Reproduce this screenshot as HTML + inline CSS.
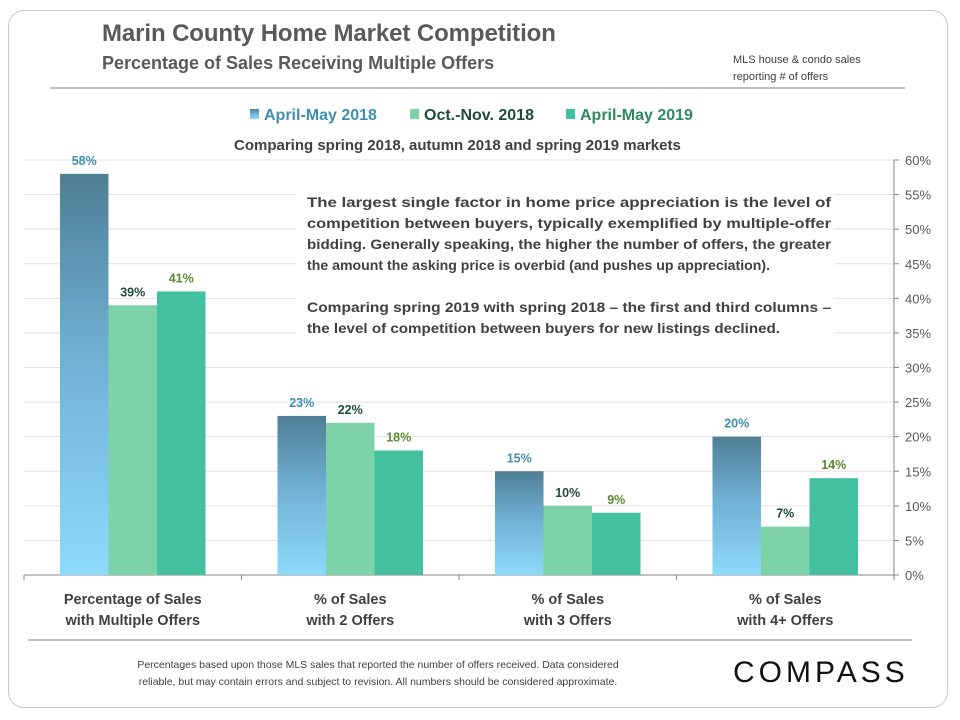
<!DOCTYPE html>
<html><head><meta charset="utf-8"><style>
html,body{margin:0;padding:0;background:#fff;}
body{width:960px;height:720px;position:relative;overflow:hidden;font-family:"Liberation Sans",sans-serif;}
.frame{position:absolute;left:8px;top:10px;width:940px;height:698px;border:1px solid #c8c8c8;border-radius:16px;box-sizing:border-box;}
.t{position:absolute;color:#595959;white-space:nowrap;}
</style></head><body>
<div class="frame"></div>
<div class="t" style="left:102px;top:20px;font-size:24px;font-weight:bold;letter-spacing:-0.1px;">Marin County Home Market Competition</div>
<div class="t" style="left:102px;top:53px;font-size:18px;font-weight:bold;">Percentage of Sales Receiving Multiple Offers</div>
<div class="t" style="left:733px;top:52px;font-size:11px;line-height:17px;color:#404040;">MLS house &amp; condo sales<br>reporting # of offers</div>
<div class="t" style="left:234px;top:137px;font-size:15px;font-weight:bold;color:#404040;">Comparing spring 2018, autumn 2018 and spring 2019 markets</div>
<svg id="chart" width="960" height="720" style="position:absolute;left:0;top:0">
<defs><linearGradient id="g1" x1="0" y1="0" x2="0" y2="1"><stop offset="0" stop-color="#4f7e95"/><stop offset="0.45" stop-color="#6fb0d3"/><stop offset="1" stop-color="#8ddafa"/></linearGradient></defs>
</svg>
<div class="t" style="left:118px;top:657px;font-size:10.5px;line-height:17px;color:#404040;text-align:center;width:520px;">Percentages based upon those MLS sales that reported the number of offers received. Data considered<br>reliable, but may contain errors and subject to revision. All numbers should be considered approximate.</div>
<div class="t" style="left:733px;top:656px;font-size:30px;letter-spacing:4px;color:#111;">COMPASS</div>
<script>
const categories=["Percentage of Sales|with Multiple Offers","% of Sales|with 2 Offers","% of Sales|with 3 Offers","% of Sales|with 4+ Offers"];
const seriesNames=["April-May 2018","Oct.-Nov. 2018","April-May 2019"];
const s2018spring=[58,23,15,20];
const s2018autumn=[39,22,10,7];
const s2019spring=[41,18,9,14];
const yTicks=[0,5,10,15,20,25,30,35,40,45,50,55,60];
const series=[s2018spring,s2018autumn,s2019spring];
const fills=["url(#g1)","#7dd3a7","#43c0a0"];
const labelColors=["#3f8fb0","#1e4d3c","#5b8a2e"];
const legendColors=["#3f8fb0","#1e4d3c","#2e8a5e"];
const NS="http://www.w3.org/2000/svg";
const svg=document.getElementById('chart');
const X0=24,X1=894,Y0=575,Y60=160;
const y=v=>Y0-(v/60)*(Y0-Y60);
const cw=(X1-X0)/categories.length;
const bw=48.5;
function mk(t,a){const e=document.createElementNS(NS,t);for(const k in a)e.setAttribute(k,a[k]);svg.appendChild(e);return e;}
let e=mk('line',{x1:50,y1:88,x2:905,y2:88,stroke:'#7f7f7f','stroke-width':1});

e=mk('line',{x1:28,y1:640,x2:912,y2:640,stroke:'#7f7f7f','stroke-width':1});

yTicks.forEach(v=>{
  if(v>0){const g=mk('line',{x1:X0,y1:y(v),x2:X1,y2:y(v),stroke:'#e0e0e0','stroke-width':1});
  }
  const tk=mk('line',{x1:X1,y1:y(v),x2:X1+5,y2:y(v),stroke:'#868686'});
  
  const t=mk('text',{x:905,y:y(v)+5,'font-size':13,fill:'#595959','font-family':'Liberation Sans'});
  t.textContent=v+'%';
  
});
e=mk('line',{x1:X1,y1:Y60,x2:X1,y2:Y0,stroke:'#868686'});

e=mk('line',{x1:X0,y1:Y0,x2:X1,y2:Y0,stroke:'#868686'});

for(let i=0;i<=categories.length;i++){const t=mk('line',{x1:X0+i*cw,y1:Y0,x2:X0+i*cw,y2:Y0+5,stroke:'#868686'});
}
// annotation box
e=mk('rect',{x:296,y:188,width:538,height:152,fill:'#fff'});

const noteLines=[
 ["The largest single factor in home price appreciation is the level of",524],
 ["competition between buyers, typically exemplified by multiple-offer",524],
 ["bidding. Generally speaking, the higher the number of offers, the greater",524],
 ["the amount the asking price is overbid (and pushes up appreciation).",463],
 ["",0],
 ["Comparing spring 2019 with spring 2018 – the first and third columns –",524],
 ["the level of competition between buyers for new listings declined.",473]];
noteLines.forEach((l,k)=>{ if(!l[0])return;
  const t=mk('text',{x:307,y:207+k*21,'font-size':13.5,'font-weight':'bold',fill:'#404040','font-family':'Liberation Sans',textLength:l[1],lengthAdjust:'spacingAndGlyphs'});
  t.textContent=l[0];
  
});
categories.forEach((c,i)=>{
  const cx=X0+cw*(i+0.5);
  series.forEach((s,j)=>{
    const bx=cx-1.5*bw+j*bw;
    const r=mk('rect',{x:bx,y:y(s[i]),width:bw,height:Y0-y(s[i]),fill:fills[j]});
    
    const l=mk('text',{x:bx+bw/2,y:y(s[i])-9,'text-anchor':'middle','font-size':12.5,'font-weight':'bold',fill:labelColors[j],'font-family':'Liberation Sans'});
    l.textContent=s[i]+'%';
    
  });
  c.split('|').forEach((ln,k)=>{
    const t=mk('text',{x:cx,y:604+k*21,'text-anchor':'middle','font-size':14.5,'font-weight':'bold',fill:'#404040','font-family':'Liberation Sans'});
    t.textContent=ln;
    
  });
});
const legX=[250,410,566];
seriesNames.forEach((n,j)=>{
  const r=mk('rect',{x:legX[j],y:109,width:9,height:10,fill:fills[j]});
  
  const t=mk('text',{x:legX[j]+14,y:120,'font-size':16,'font-weight':'bold',fill:legendColors[j],'font-family':'Liberation Sans'});
  t.textContent=n;
  
});
</script>
</body></html>
